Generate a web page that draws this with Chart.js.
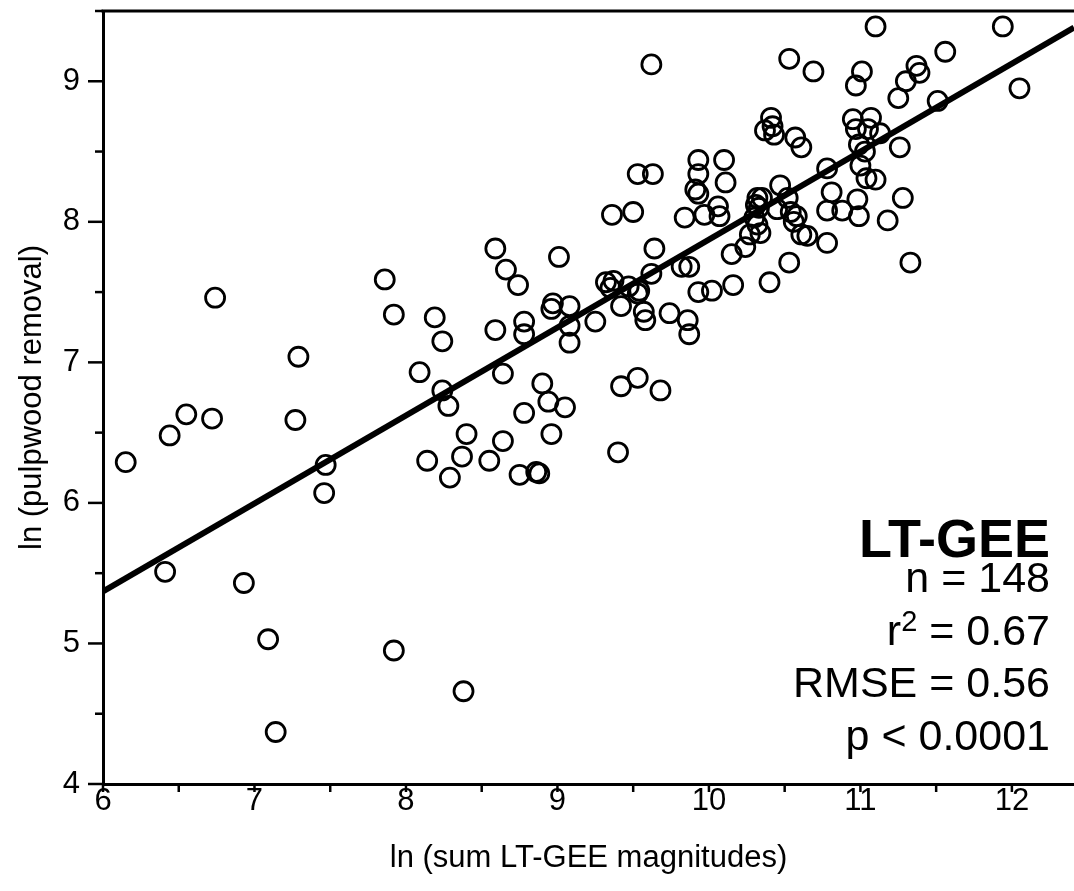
<!DOCTYPE html>
<html>
<head>
<meta charset="utf-8">
<script src="https://cdn.jsdelivr.net/npm/chart.js@4.4.1/dist/chart.umd.min.js"></script>
<style>
  html, body { margin: 0; padding: 0; background: #fff; }
  #wrap { width: 1074px; height: 891px; }
</style>
</head>
<body>
<div id="wrap"><canvas id="scatterCanvas" width="1074" height="891"></canvas></div>
<script>
// ln(sum LT-GEE magnitudes) vs ln(pulpwood removal)
const lnMagnitude = [
    6.15, 6.41, 6.44, 6.55, 6.72, 6.74, 6.93, 7.09, 7.14, 7.29,
    7.27, 7.47, 7.46, 7.86, 7.92, 7.92, 8.38, 8.59, 8.66, 8.74,
    9.01, 8.19, 8.24, 8.59, 8.78, 8.78, 8.97, 8.96, 9.08, 9.08,
    9.08, 9.25, 9.32, 9.37, 9.35, 8.09, 8.24, 8.28, 8.64, 8.90,
    8.94, 9.05, 8.78, 8.96, 8.40, 8.37, 8.64, 8.14, 8.29, 8.55,
    8.75, 8.86, 8.88, 9.42, 9.53, 9.68, 9.40, 9.64, 9.42, 9.53,
    9.54, 9.62, 9.57, 9.58, 9.74, 9.86, 9.87, 9.82, 9.87, 9.93,
    10.02, 10.16, 10.15, 10.24, 10.40, 10.53, 9.62, 9.36, 9.50, 9.53,
    9.63, 9.93, 9.93, 9.91, 9.93, 10.10, 10.11, 9.84, 9.97, 10.06,
    10.07, 10.41, 10.42, 10.37, 10.43, 10.47, 10.32, 10.35, 10.52, 10.54,
    10.58, 10.56, 10.30, 10.32, 10.27, 10.34, 10.61, 10.65, 10.78, 10.53,
    10.69, 11.01, 10.97, 11.37, 11.39, 11.30, 11.25, 11.51, 10.95, 11.07,
    11.13, 10.97, 11.05, 10.99, 11.03, 11.26, 11.00, 11.04, 11.10, 10.78,
    10.57, 10.61, 10.81, 10.98, 10.78, 10.88, 10.99, 11.28, 11.18, 11.33,
    11.10, 11.94, 11.56, 12.05, 10.33, 10.31, 10.45, 9.47
];
const lnPulpwood = [
    6.29, 5.51, 6.48, 6.63, 6.60, 7.46, 5.43, 5.03, 4.37, 7.04,
    6.59, 6.27, 6.07, 7.59, 7.34, 4.95, 4.66, 7.81, 7.66, 7.55,
    7.75, 7.32, 7.15, 7.23, 7.29, 7.20, 7.42, 7.38, 7.40, 7.26,
    7.14, 7.29, 7.57, 7.58, 7.53, 6.93, 6.80, 6.69, 6.92, 6.85,
    6.72, 6.68, 6.64, 6.49, 6.49, 6.33, 6.44, 6.30, 6.18, 6.30,
    6.20, 6.22, 6.21, 6.83, 6.89, 6.80, 6.36, 7.81, 7.40, 7.49,
    7.51, 7.63, 7.36, 7.30, 7.35, 7.30, 7.20, 7.68, 7.68, 7.50,
    7.51, 7.55, 7.77, 7.82, 7.57, 7.71, 9.12, 8.05, 8.07, 8.34,
    8.34, 8.44, 8.34, 8.23, 8.20, 8.44, 8.28, 8.03, 8.05, 8.11,
    8.04, 8.74, 8.68, 8.65, 8.62, 8.26, 8.17, 8.17, 8.17, 8.07,
    8.04, 8.00, 8.03, 7.98, 7.91, 7.92, 7.91, 7.90, 7.85, 9.16,
    9.07, 9.07, 8.97, 9.11, 9.06, 9.00, 8.88, 8.86, 8.73, 8.74,
    8.63, 8.66, 8.66, 8.55, 8.50, 8.53, 8.40, 8.31, 8.30, 8.38,
    8.60, 8.53, 8.21, 8.16, 8.08, 8.08, 8.04, 8.17, 8.01, 7.71,
    9.39, 9.39, 9.21, 8.95, 8.10, 8.12, 8.09, 7.54
];

// fitted line: ln(pulpwood) = intercept + slope * (ln(mag) - 6)
const fitIntercept = 5.37;
const fitSlope = 0.626;

const xRange = [6, 12.41];
const yRange = [4, 9.5];
const xTicks = [6, 7, 8, 9, 10, 11, 12];
const yTicks = [4, 5, 6, 7, 8, 9];

const statsTitle = "LT-GEE";
const statsLines = [
    ["n = 148"],
    ["r", "2", " = 0.67"],
    ["RMSE = 0.56"],
    ["p < 0.0001"]
];

const FONT = "'Liberation Sans', Arial, Helvetica, sans-serif";

const points = lnMagnitude.map((x, i) => ({ x: x, y: lnPulpwood[i] }));
const fitLine = xRange.map(x => ({ x: x, y: fitIntercept + fitSlope * (x - 6) }));

// outward tick marks (major + minor) and the top frame line
const frameTicks = {
    id: "frameTicks",
    afterDraw(chart) {
        const ctx = chart.ctx;
        const xs = chart.scales.x;
        const ys = chart.scales.y;
        const area = chart.chartArea;
        ctx.save();
        ctx.strokeStyle = "#000";
        ctx.lineWidth = 3;
        ctx.beginPath();
        ctx.moveTo(area.left - 1.5, area.top);
        ctx.lineTo(area.right, area.top);
        ctx.stroke();

        ctx.lineWidth = 2.5;
        for (let v = yRange[0]; v <= yRange[1] + 1e-9; v += 0.5) {
            const py = ys.getPixelForValue(v);
            const len = Number.isInteger(v) ? 15 : 8;
            ctx.beginPath();
            ctx.moveTo(area.left, py);
            ctx.lineTo(area.left - len, py);
            ctx.stroke();
        }
        for (let v = xRange[0]; v <= xRange[1] + 1e-9; v += 0.5) {
            const px = xs.getPixelForValue(v);
            ctx.beginPath();
            ctx.moveTo(px, area.bottom);
            ctx.lineTo(px, area.bottom + 8);
            ctx.stroke();
        }
        ctx.restore();
    }
};

// label block, right aligned; the middle piece of r2 is a superscript
const statsBox = {
    id: "statsBox",
    afterDraw(chart) {
        const ctx = chart.ctx;
        const right = 1050;
        const big = "43px " + FONT;
        const sup = "29px " + FONT;
        ctx.save();
        ctx.fillStyle = "#000";
        ctx.textBaseline = "alphabetic";
        ctx.textAlign = "right";
        ctx.font = "bold 54px " + FONT;
        ctx.fillText(statsTitle, right, 557);
        ctx.textAlign = "left";
        statsLines.forEach((parts, i) => {
            const y = 592 + i * 52.5;
            const fonts = parts.map((p, j) => (parts.length === 3 && j === 1) ? sup : big);
            let w = 0;
            parts.forEach((p, j) => { ctx.font = fonts[j]; w += ctx.measureText(p).width; });
            let x = right - w;
            parts.forEach((p, j) => {
                ctx.font = fonts[j];
                const dy = fonts[j] === sup ? -14 : 0;
                ctx.fillText(p, x, y + dy);
                x += ctx.measureText(p).width;
            });
        });
        ctx.restore();
    }
};

const scatterChart = new Chart(document.getElementById("scatterCanvas"), {
    type: "scatter",
    data: {
        datasets: [
            {
                label: "plots",
                data: points,
                pointStyle: "circle",
                pointRadius: 9.5,
                pointHoverRadius: 9.5,
                borderWidth: 2.8,
                borderColor: "#000",
                backgroundColor: "rgba(0,0,0,0)"
            },
            {
                type: "line",
                label: "fit",
                data: fitLine,
                borderColor: "#000",
                borderWidth: 6,
                pointRadius: 0,
                fill: false
            }
        ]
    },
    plugins: [frameTicks, statsBox],
    options: {
        responsive: false,
        animation: false,
        layout: { autoPadding: false, padding: { top: 11, right: 0, bottom: 0, left: 0 } },
        plugins: {
            legend: { display: false },
            tooltip: { enabled: false }
        },
        scales: {
            x: {
                type: "linear",
                min: xRange[0],
                max: xRange[1],
                afterBuildTicks: s => { s.ticks = xTicks.map(v => ({ value: v })); },
                afterFit: s => { s.height = 107; s.paddingLeft = 0; s.paddingRight = 0; },
                grid: { drawOnChartArea: false, drawTicks: false },
                border: { display: true, color: "#000", width: 3 },
                ticks: { color: "#000", padding: -1, maxRotation: 0, font: { family: FONT, size: 31 } },
                title: {
                    display: true,
                    text: "ln (sum LT-GEE magnitudes)",
                    color: "#000",
                    font: { family: FONT, size: 31 },
                    padding: { top: 0, bottom: 14 }
                }
            },
            y: {
                type: "linear",
                min: yRange[0],
                max: yRange[1],
                afterBuildTicks: s => { s.ticks = yTicks.map(v => ({ value: v })); },
                afterFit: s => { s.width = 103; s.paddingTop = 0; s.paddingBottom = 0; },
                grid: { drawOnChartArea: false, drawTicks: false },
                border: { display: true, color: "#000", width: 3 },
                ticks: { color: "#000", padding: 23, font: { family: FONT, size: 31 } },
                title: {
                    display: true,
                    text: "ln (pulpwood removal)",
                    color: "#000",
                    font: { family: FONT, size: 31 },
                    padding: { top: 14, bottom: 0 }
                }
            }
        }
    }
});
</script>
</body>
</html>
